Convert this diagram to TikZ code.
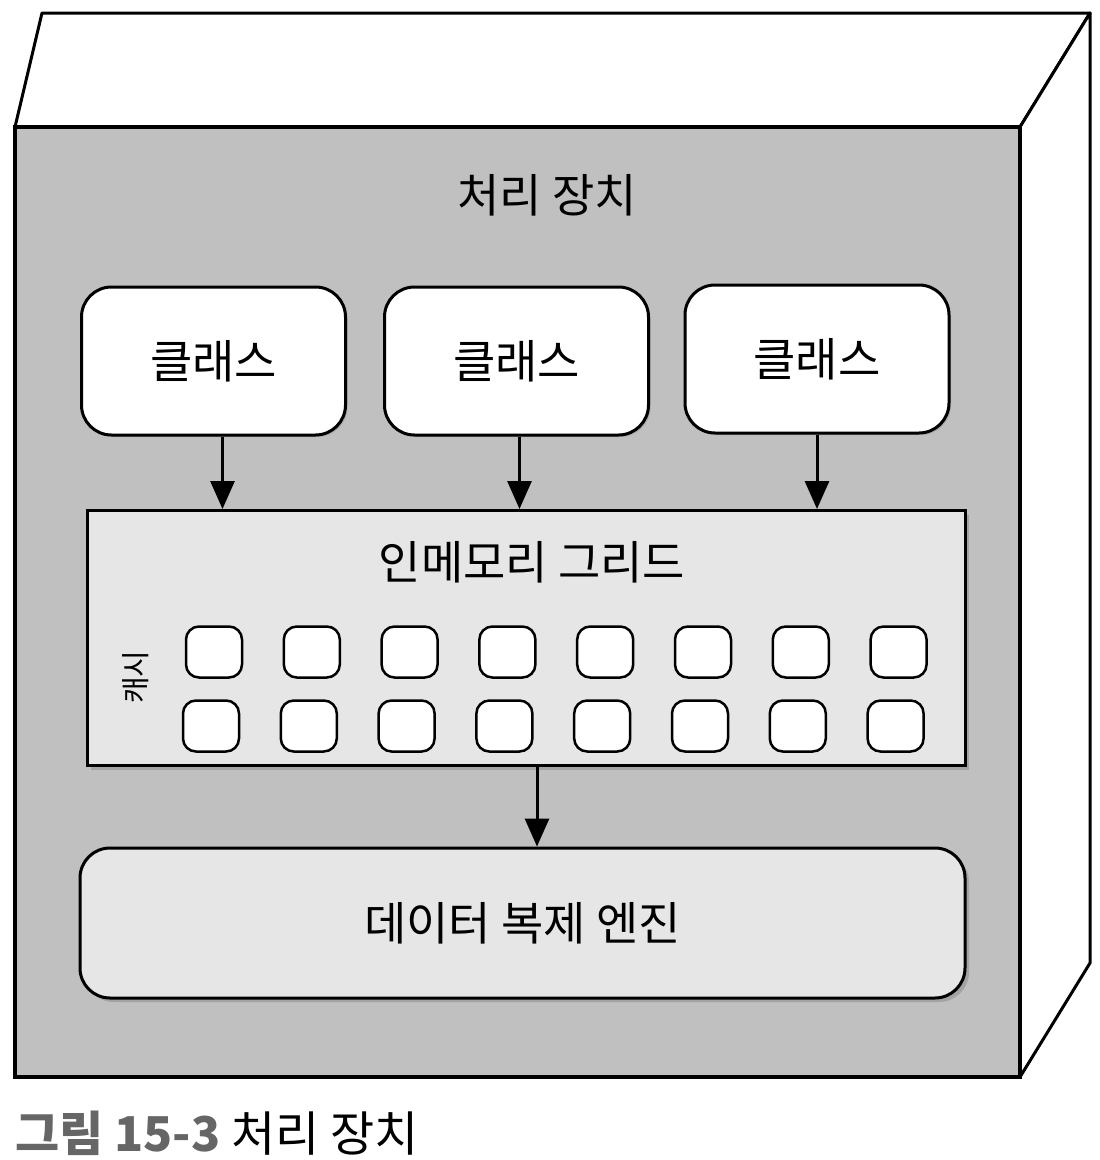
\documentclass[tikz,border=0pt]{standalone}
\usepackage{fontspec}
\setmainfont{Noto Sans CJK KR}
\usetikzlibrary{arrows.meta,shadows}
\definecolor{frontgray}{HTML}{C0C0C0}
\definecolor{panelgray}{HTML}{E6E6E6}
\definecolor{capgray}{HTML}{666666}

\begin{document}
\begin{tikzpicture}[x=1pt,y=-1pt,
  klass/.style={draw,line width=3pt,fill=white,rounded corners=30pt,
    minimum width=264pt,minimum height=148pt,font=\fontsize{46}{50}\selectfont,
    drop shadow={shadow xshift=2pt,shadow yshift=-2pt,opacity=0.35}},
  panel/.style={draw,line width=3pt,fill=panelgray,
    drop shadow={shadow xshift=4pt,shadow yshift=-4pt,opacity=0.45}},
  cell/.style={draw,line width=2.5pt,fill=white,rounded corners=13pt,
    minimum width=56pt,minimum height=51pt,inner sep=0pt},
  label/.style={font=\fontsize{46}{50}\selectfont},
  link/.style={line width=3pt,-{Triangle[width=24pt,length=28pt]}}]
\useasboundingbox (0,0) rectangle (1100,1160);
% the unit
\draw[line width=3pt,fill=white,line join=round] (15,127) -- (42,13) -- (1090,13) -- (1020,127) -- cycle;
\draw[line width=3pt,fill=white,line join=round] (1020,127) -- (1090,13) -- (1090,963) -- (1020,1077) -- cycle;
\draw[line width=3.5pt,fill=frontgray] (15,127) rectangle (1020,1077);
\node [label] (title) at (547,195) {처리 장치};

\node [klass] (c1) at (213.5,361) {클래스};
\node [klass] (c2) at (516.5,361) {클래스};
\node [klass] (c3) at (817,359) {클래스};

\node [panel,minimum width=878pt,minimum height=255pt] (grid) at (526,638) {};
\node [label] (gridtitle) at (532,562) {인메모리 그리드};
\node [rotate=90,font=\fontsize{29}{30}\selectfont] (cache) at (136,677) {캐시};
\foreach \i in {0,...,7} {
  \node [cell] (top\i) at ({214+97.8*\i},652) {};
  \node [cell] (bot\i) at ({211+97.8*\i},726) {};
}

\node [panel,rounded corners=30pt,minimum width=885pt,minimum height=150pt,
  font=\fontsize{46}{50}\selectfont] (engine) at (522.5,923) {데이터 복제 엔진};

\draw [link] ([xshift=9pt]c1.south) -- ([xshift=9pt]c1.south |- grid.north);
\draw [link] ([xshift=3pt]c2.south) -- ([xshift=3pt]c2.south |- grid.north);
\draw [link] (c3.south) -- (c3.south |- grid.north);
\draw [link] ([xshift=11pt]grid.south) -- ([xshift=11pt]grid.south |- engine.north);

\node [anchor=base west,inner sep=0pt,font=\fontsize{48}{50}\selectfont] (caption) at (15,1151)
  {\textcolor{capgray}{\bfseries 그림 15-3} 처리 장치};
\end{tikzpicture}
\end{document}
